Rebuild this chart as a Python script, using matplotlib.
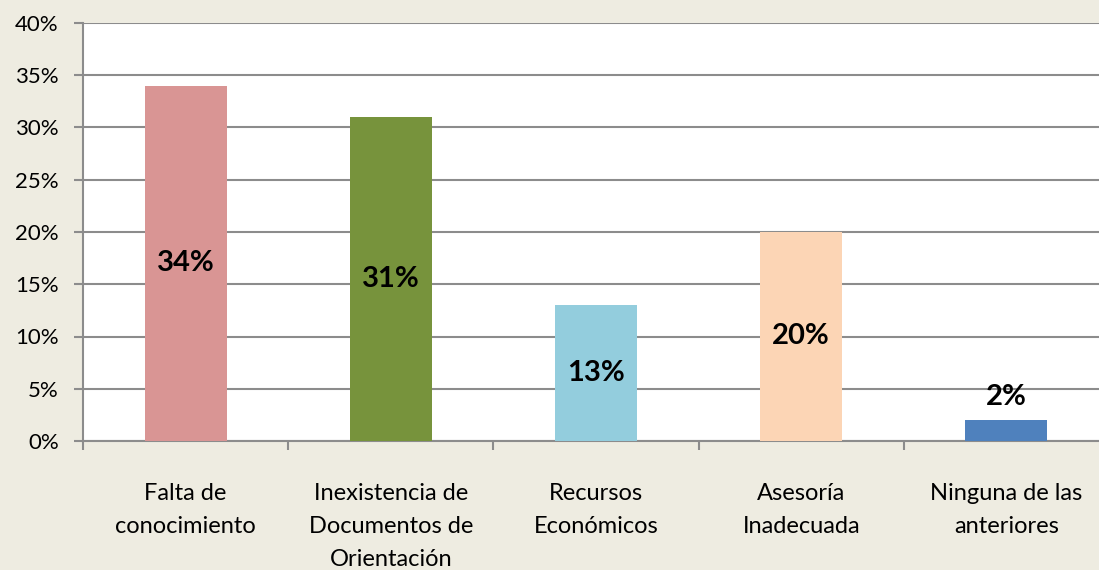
import numpy as np
import matplotlib.pyplot as plt

categories = ["Falta de\nconocimiento", "Inexistencia de\nDocumentos de\nOrientación",
              "Recursos\nEconómicos", "Asesoría\nInadecuada", "Ninguna de las\nanteriores"]
values = [34, 31, 13, 20, 2]
colors = ["#D99594", "#77933C", "#93CDDD", "#FCD5B5", "#4F81BD"]

plt.rcParams['font.family'] = ['Lato', 'DejaVu Sans']

bg = "#EEECE1"
grid_col = "#8C8C8C"
fig = plt.figure(figsize=(10.99, 5.70), dpi=100, facecolor=bg)
W, H = 1099, 570
ax = fig.add_axes([83 / W, 1 - 441 / H, (1109 - 83) / W, (441 - 23) / H])
ax.set_facecolor("white")

x = np.arange(len(values))
ax.bar(x, values, width=0.4, color=colors, zorder=3)

ax.set_xlim(-0.5, len(values) - 0.5)
ax.set_ylim(0, 40)
ax.set_yticks(np.arange(0, 41, 5))
ax.set_yticklabels([f"{v}%" for v in range(0, 41, 5)], fontsize=16)
ax.yaxis.grid(True, color=grid_col, linewidth=1.5, zorder=0)
ax.tick_params(axis='y', length=6.5, width=1.5, color=grid_col, pad=11)

# category boundary ticks
ax.set_xticks(np.arange(-0.5, len(values) + 0.5, 1))
ax.set_xticklabels([])
ax.tick_params(axis='x', length=6.5, width=1.5, color=grid_col)
ax.set_xticks(x, minor=True)
ax.set_xticklabels(categories, minor=True, fontsize=17, linespacing=1.72, va='top')
ax.tick_params(axis='x', which='minor', length=0, pad=30)

for s in ["top", "right"]:
    ax.spines[s].set_visible(False)
for s in ["left", "bottom"]:
    ax.spines[s].set_color(grid_col)
    ax.spines[s].set_linewidth(1.5)

for xi, v in zip(x, values):
    if v >= 5:
        ax.text(xi, v / 2, f"{v}%", ha='center', va='center', fontsize=21,
                fontweight='bold', zorder=4)
    else:
        ax.text(xi, v + 1.0, f"{v}%", ha='center', va='bottom', fontsize=21,
                fontweight='bold', zorder=4)

fig.savefig("out.png", dpi=100, facecolor=bg)
